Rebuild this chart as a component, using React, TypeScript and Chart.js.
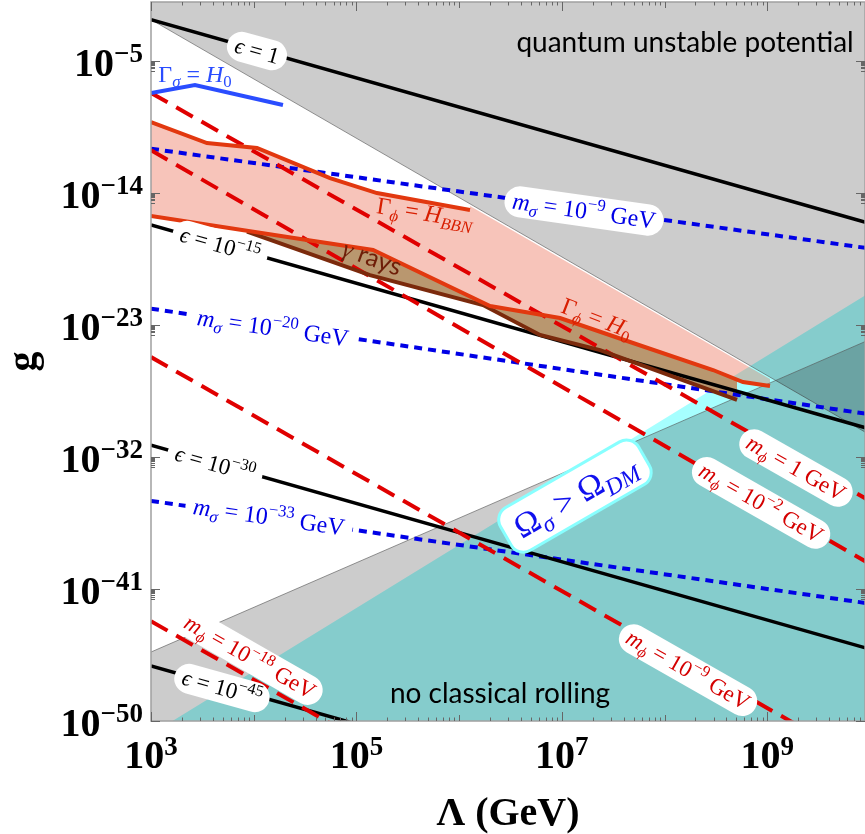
import { useEffect, useRef } from 'react';
import { Chart, registerables } from 'chart.js';
Chart.register(...registerables);

// ---------- axes (values are log10 Λ/GeV and log10 g) ----------
const xRange = [3, 9.952];
const yRange = [-50, -1];
const xMajor = [3, 5, 7, 9];
const xMid = [4, 6, 8];
const yMajor = [-50, -41, -32, -23, -14, -5];

// ---------- region boundaries ----------
const unstableEdge = [[3, -2.2], [10, -30.5]];
const rollingEdge = [[3, -45.3], [10, -24.0]];
const relicEdge = [[3, -50.9], [10, -20.8]];

// ---------- epsilon contours ----------
const eps0 = [[3, -2.2], [10, -16.1]];
const eps15 = [[3, -16.2], [10, -30.1]];
const eps30 = [[3, -31.2], [10, -45.1]];
const eps45 = [[3, -46.25], [10, -60.1]];

// ---------- m_phi contours ----------
const mphi0 = [[3, -7.2], [10, -35.0]];
const mphi2 = [[3, -11.1], [10, -39.3]];
const mphi9 = [[3, -25.2], [10, -53.1]];
const mphi18 = [[3, -43.2], [10, -71.1]];

// ---------- m_sigma contours ----------
const msig9 = [[3, -11.0], [10, -17.8]];
const msig20 = [[3, -21.9], [10, -29.1]];
const msig33 = [[3, -35.0], [10, -42.0]];

// ---------- decay curves ----------
const gammaSigmaH0 = [[3, -7.2], [3.428, -6.66], [4.285, -8.02]];
const gammaPhiBBN = [[3, -9.18], [3.545, -10.61], [4.032, -10.95], [4.743, -13.0], [5.2, -14.02], [6.106, -15.18]];
const pinkUnstableEdge = [[6.106, -14.9], [9.027, -26.7]];
const gammaPhiH0 = [[3, -15.58], [4.519, -17.22], [5.162, -17.9], [6.301, -21.72], [6.982, -22.54], [7.693, -24.24], [8.472, -26.08], [8.764, -26.9], [9.027, -27.17]];
const gammaRayTop = [[3.935, -16.65], [4.519, -17.22], [5.162, -17.9], [6.301, -21.72], [6.982, -22.54], [7.693, -24.24], [8.472, -26.08], [8.764, -26.9]];
const gammaRayBottom = [[3.935, -16.65], [5.132, -19.61], [6.233, -21.65], [6.788, -23.69], [7.372, -24.72], [7.83, -25.88], [8.706, -28.12]];

// ---------- text annotations ----------
type Seg = { t: string; k?: 'sub' | 'sup'; i?: boolean; sans?: boolean };
type Note = { x: number; y: number; rot: number; size: number; color: string; box?: 'pill' | 'cyan'; segs: Seg[] };

const RED = '#d40000';
const BLUE = '#0000e6';
const notes: Note[] = [
  { x: 4.032, y: -4.34, rot: 15.7, size: 23, color: '#000', box: 'pill', segs: [{ t: 'ϵ', i: true }, { t: ' = 1' }] },
  { x: 3.672, y: -17.56, rot: 15.7, size: 23, color: '#000', box: 'pill', segs: [{ t: 'ϵ', i: true }, { t: ' = 10' }, { t: '−15', k: 'sup' }] },
  { x: 3.623, y: -32.49, rot: 15.7, size: 23, color: '#000', box: 'pill', segs: [{ t: 'ϵ', i: true }, { t: ' = 10' }, { t: '−30', k: 'sup' }] },
  { x: 3.691, y: -47.75, rot: 15.7, size: 23, color: '#000', box: 'pill', segs: [{ t: 'ϵ', i: true }, { t: ' = 10' }, { t: '−45', k: 'sup' }] },
  { x: 3.964, y: -45.64, rot: 29.7, size: 23, color: RED, box: 'pill', segs: [{ t: 'm', i: true }, { t: 'ϕ', k: 'sub', i: true }, { t: ' = 10' }, { t: '−18', k: 'sup' }, { t: ' GeV' }] },
  { x: 8.229, y: -46.53, rot: 29.7, size: 23, color: RED, box: 'pill', segs: [{ t: 'm', i: true }, { t: 'ϕ', k: 'sub', i: true }, { t: ' = 10' }, { t: '−9', k: 'sup' }, { t: ' GeV' }] },
  { x: 8.94, y: -35.14, rot: 29.7, size: 23, color: RED, box: 'pill', segs: [{ t: 'm', i: true }, { t: 'ϕ', k: 'sub', i: true }, { t: ' = 10' }, { t: '−2', k: 'sup' }, { t: ' GeV' }] },
  { x: 9.28, y: -32.76, rot: 29.7, size: 23, color: RED, box: 'pill', segs: [{ t: 'm', i: true }, { t: 'ϕ', k: 'sub', i: true }, { t: ' = 1 GeV' }] },
  { x: 7.216, y: -15.24, rot: 8.1, size: 24, color: BLUE, box: 'pill', segs: [{ t: 'm', i: true }, { t: 'σ', k: 'sub', i: true }, { t: ' = 10' }, { t: '−9', k: 'sup' }, { t: ' GeV' }] },
  { x: 4.188, y: -23.22, rot: 8.1, size: 24, color: BLUE, box: 'pill', segs: [{ t: 'm', i: true }, { t: 'σ', k: 'sub', i: true }, { t: ' = 10' }, { t: '−20', k: 'sup' }, { t: ' GeV' }] },
  { x: 4.149, y: -36.1, rot: 8.1, size: 24, color: BLUE, box: 'pill', segs: [{ t: 'm', i: true }, { t: 'σ', k: 'sub', i: true }, { t: ' = 10' }, { t: '−33', k: 'sup' }, { t: ' GeV' }] },
  { x: 3.428, y: -5.91, rot: 0, size: 24, color: '#2a4dff', segs: [{ t: 'Γ' }, { t: 'σ', k: 'sub', i: true }, { t: ' = ' }, { t: 'H', i: true }, { t: '0', k: 'sub' }] },
  { x: 5.668, y: -15.38, rot: 9, size: 24, color: '#d81e00', segs: [{ t: 'Γ' }, { t: 'ϕ', k: 'sub', i: true }, { t: ' = ' }, { t: 'H', i: true }, { t: 'BBN', k: 'sub', i: true }] },
  { x: 7.343, y: -22.54, rot: 21, size: 24, color: '#d81e00', segs: [{ t: 'Γ' }, { t: 'ϕ', k: 'sub', i: true }, { t: ' = ' }, { t: 'H', i: true }, { t: '0', k: 'sub' }] },
  { x: 5.152, y: -18.45, rot: 20, size: 25, color: '#6e1e08', segs: [{ t: 'γ', i: true }, { t: ' rays', sans: true }] },
  { x: 7.128, y: -34.67, rot: -30, size: 34, color: '#1010ee', box: 'cyan', segs: [{ t: 'Ω' }, { t: 'σ', k: 'sub', i: true }, { t: ' > ' }, { t: 'Ω' }, { t: 'DM', k: 'sub', i: true }] },
  { x: 8.2, y: -3.79, rot: 0, size: 28, color: '#000', segs: [{ t: 'quantum unstable potential', sans: true }] },
  { x: 6.398, y: -48.16, rot: 0, size: 28, color: '#000', segs: [{ t: 'no classical rolling', sans: true }] },
];

const SERIF = '"Liberation Serif", "DejaVu Serif", serif';
const SANS = 'Lato, "Open Sans", sans-serif';

function segFont(s: Seg, size: number) {
  const sz = s.k ? size * 0.7 : size;
  return `${s.i ? 'italic ' : ''}${sz}px ${s.sans ? SANS : SERIF}`;
}
function segsWidth(ctx: CanvasRenderingContext2D, segs: Seg[], size: number) {
  let w = 0;
  for (const s of segs) {
    ctx.font = segFont(s, size);
    w += ctx.measureText(s.t).width;
  }
  return w;
}
function drawSegs(ctx: CanvasRenderingContext2D, segs: Seg[], size: number, x0: number, y: number) {
  let x = x0;
  ctx.textAlign = 'left';
  ctx.textBaseline = 'alphabetic';
  for (const s of segs) {
    ctx.font = segFont(s, size);
    const dy = s.k === 'sub' ? size * 0.22 : s.k === 'sup' ? -size * 0.42 : 0;
    ctx.fillText(s.t, x, y + dy);
    x += ctx.measureText(s.t).width;
  }
}

const P = (a: number[][]) => a.map(([x, y]) => ({ x, y }));

function buildDatasets() {
  const ds: any[] = [];
  const add = (d: any) => {
    ds.push({ pointRadius: 0, borderWidth: 0, borderColor: 'transparent', backgroundColor: 'transparent', fill: false, clip: 0, tension: 0, ...d });
    return ds.length - 1;
  };
  add({ data: P(relicEdge), fill: 'start', backgroundColor: 'rgba(0,255,255,0.35)' });
  add({ data: P(unstableEdge), fill: 'end', backgroundColor: 'rgba(0,0,0,0.2)', borderWidth: 1, borderColor: 'rgba(80,80,80,0.6)' });
  add({ data: P(rollingEdge), fill: 'start', backgroundColor: 'rgba(0,0,0,0.2)', borderWidth: 1, borderColor: 'rgba(80,80,80,0.6)' });
  const pinkIdx = add({ data: P([...gammaPhiBBN, ...pinkUnstableEdge]), backgroundColor: 'rgba(230,70,40,0.32)' });
  const gTopIdx = add({ data: P(gammaRayTop), backgroundColor: '#b9976f' });
  const dotted = { borderColor: BLUE, borderWidth: 4, borderDash: [8, 6] };
  add({ data: P(msig9), ...dotted });
  add({ data: P(msig20), ...dotted });
  add({ data: P(msig33), ...dotted });
  const solid = { borderColor: '#000', borderWidth: 3.5 };
  add({ data: P(eps0), ...solid });
  add({ data: P(eps15), ...solid });
  add({ data: P(eps30), ...solid });
  add({ data: P(eps45), ...solid });
  const dashed = { borderColor: '#e00000', borderWidth: 4, borderDash: [19, 10] };
  add({ data: P(mphi0), ...dashed });
  add({ data: P(mphi2), ...dashed });
  add({ data: P(mphi9), ...dashed });
  add({ data: P(mphi18), ...dashed });
  const gBotIdx = add({ data: P(gammaRayBottom), borderColor: '#7b2a0c', borderWidth: 4 });
  const h0Idx = add({ data: P(gammaPhiH0), borderColor: '#e2380f', borderWidth: 4 });
  add({ data: P(gammaPhiBBN), borderColor: '#e2380f', borderWidth: 4 });
  add({ data: P(gammaSigmaH0), borderColor: '#2a4dff', borderWidth: 4 });
  ds[pinkIdx].fill = h0Idx;
  ds[gTopIdx].fill = gBotIdx;
  ds.forEach((d, i) => (d.order = -i));
  return ds;
}

const notesPlugin = {
  id: 'notes',
  afterDatasetsDraw(chart: any) {
    const ctx: CanvasRenderingContext2D = chart.ctx;
    const xs = chart.scales.x, ys = chart.scales.y;
    const ca = chart.chartArea;
    ctx.save();
    ctx.beginPath();
    ctx.rect(ca.left, ca.top, ca.right - ca.left, ca.bottom - ca.top);
    ctx.clip();
    for (const n of notes) {
      const px = xs.getPixelForValue(n.x), py = ys.getPixelForValue(n.y);
      const w = segsWidth(ctx, n.segs, n.size);
      ctx.save();
      ctx.translate(px, py);
      ctx.rotate((n.rot * Math.PI) / 180);
      if (n.box) {
        const padX = n.box === 'cyan' ? 12 : 8;
        const h = n.box === 'cyan' ? n.size * 1.45 : n.size * 1.3;
        ctx.beginPath();
        (ctx as any).roundRect(-w / 2 - padX, -h / 2, w + 2 * padX, h, n.box === 'cyan' ? 14 : h / 2);
        ctx.fillStyle = '#fff';
        ctx.fill();
        if (n.box === 'cyan') {
          ctx.strokeStyle = '#8ff';
          ctx.lineWidth = 3;
          ctx.stroke();
        }
      }
      ctx.fillStyle = n.color;
      drawSegs(ctx, n.segs, n.size, -w / 2, n.size * 0.32);
      ctx.restore();
    }
    ctx.restore();
  },
};

const axesPlugin = {
  id: 'axesDeco',
  afterDraw(chart: any) {
    const ctx: CanvasRenderingContext2D = chart.ctx;
    const xs = chart.scales.x, ys = chart.scales.y;
    const ca = chart.chartArea;
    ctx.save();
    ctx.strokeStyle = '#a0a0a0';
    ctx.lineWidth = 1.5;
    ctx.strokeRect(ca.left, ca.top, ca.right - ca.left, ca.bottom - ca.top);
    ctx.strokeStyle = '#666';
    ctx.lineWidth = 1;
    const vt = (v: number, len: number) => {
      const p = Math.round(xs.getPixelForValue(v)) + 0.5;
      ctx.beginPath();
      ctx.moveTo(p, ca.bottom); ctx.lineTo(p, ca.bottom - len);
      ctx.moveTo(p, ca.top); ctx.lineTo(p, ca.top + len);
      ctx.stroke();
    };
    const ht = (v: number, len: number) => {
      const p = Math.round(ys.getPixelForValue(v)) + 0.5;
      ctx.beginPath();
      ctx.moveTo(ca.left, p); ctx.lineTo(ca.left + len, p);
      ctx.moveTo(ca.right, p); ctx.lineTo(ca.right - len, p);
      ctx.stroke();
    };
    xMajor.forEach((v) => vt(v, 9));
    xMid.forEach((v) => vt(v, 6));
    for (let n = 3; n <= 9; n++) for (let k = 2; k <= 9; k++) {
      const v = n + Math.log10(k);
      if (v < xRange[1]) vt(v, 3.5);
    }
    yMajor.forEach((v) => ht(v, 9));
    for (const m of yMajor) for (let k = 2; k <= 9; k++) {
      const v = m - 1 + Math.log10(k);
      if (v > yRange[0]) ht(v, 4);
    }
    // tick labels
    ctx.fillStyle = '#000';
    ctx.textBaseline = 'alphabetic';
    ctx.textAlign = 'left';
    const big = `bold 40px ${SERIF}`;
    const small = `bold 27px ${SERIF}`;
    for (const v of xMajor) {
      const px = xs.getPixelForValue(v);
      ctx.font = big; const w1 = ctx.measureText('10').width;
      ctx.font = small; const w2 = ctx.measureText(String(v)).width;
      const x0 = px - (w1 + w2) / 2;
      ctx.font = big; ctx.fillText('10', x0, 768);
      ctx.font = small; ctx.fillText(String(v), x0 + w1, 755);
    }
    for (const v of yMajor) {
      const py = ys.getPixelForValue(v);
      const sup = '−' + Math.abs(v);
      ctx.font = big; const w1 = ctx.measureText('10').width;
      ctx.font = small; const w2 = ctx.measureText(sup).width;
      const x0 = 143 - w1 - w2;
      ctx.font = big; ctx.fillText('10', x0, py + 15);
      ctx.font = small; ctx.fillText(sup, x0 + w1, py + 1);
    }
    // axis titles
    ctx.font = big;
    ctx.textAlign = 'center';
    ctx.fillText('Λ (GeV)', (ca.left + ca.right) / 2, 825);
    ctx.translate(25, (ca.top + ca.bottom) / 2);
    ctx.rotate(-Math.PI / 2);
    ctx.textBaseline = 'middle';
    ctx.fillText('g', 0, 0);
    ctx.restore();
  },
};

export default function App() {
  const ref = useRef<HTMLCanvasElement>(null);
  useEffect(() => {
    const chart = new Chart(ref.current as HTMLCanvasElement, {
      type: 'line',
      data: { datasets: buildDatasets() },
      options: {
        animation: false,
        responsive: false,
        maintainAspectRatio: false,
        events: [],
        layout: { padding: { left: 151, top: 2, right: 0, bottom: 113 } },
        plugins: { legend: { display: false }, tooltip: { enabled: false } },
        scales: {
          x: { type: 'linear', min: xRange[0], max: xRange[1], display: false },
          y: { type: 'linear', min: yRange[0], max: yRange[1], display: false },
        },
      },
      plugins: [notesPlugin, axesPlugin],
    } as any);
    return () => chart.destroy();
  }, []);
  return (
    <div style={{ position: 'fixed', left: 0, top: 0, width: 865, height: 834, background: '#fff' }}>
      <canvas ref={ref} width={865} height={834} style={{ display: 'block', width: 865, height: 834 }} />
    </div>
  );
}
